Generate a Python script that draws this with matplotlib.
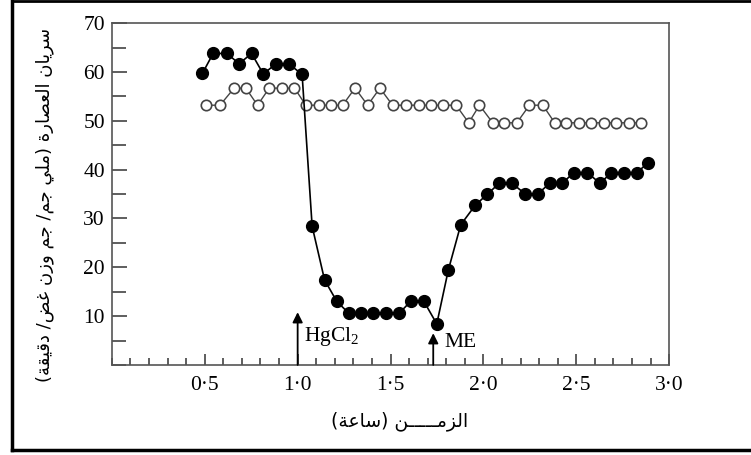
import matplotlib
matplotlib.use("Agg")
import matplotlib.pyplot as plt
from matplotlib.lines import Line2D
from matplotlib.ticker import MultipleLocator, FixedLocator

# time (hours) and sap flow
t_treated = [0.487, 0.545, 0.619, 0.685, 0.752, 0.815, 0.884, 0.952, 1.024,
             1.078, 1.145, 1.211, 1.275, 1.339, 1.406, 1.478, 1.547, 1.608,
             1.680, 1.749, 1.811, 1.878, 1.956, 2.022, 2.085, 2.154, 2.226,
             2.292, 2.357, 2.424, 2.487, 2.559, 2.628, 2.689, 2.757, 2.826, 2.887]
flow_treated = [59.7, 63.8, 63.8, 61.7, 63.8, 59.6, 61.7, 61.7, 59.5,
                28.4, 17.4, 13.0, 10.6, 10.6, 10.6, 10.6, 10.6, 13.0,
                13.0, 8.4, 19.4, 28.7, 32.7, 35.0, 37.2, 37.2, 35.0,
                35.0, 37.2, 37.2, 39.4, 39.4, 37.2, 39.4, 39.4, 39.4, 41.4]

t_control = [0.505, 0.582, 0.658, 0.721, 0.784, 0.847, 0.915, 0.983, 1.044,
             1.116, 1.179, 1.242, 1.309, 1.377, 1.443, 1.511, 1.584, 1.655,
             1.718, 1.781, 1.853, 1.921, 1.979, 2.050, 2.113, 2.180, 2.248,
             2.320, 2.384, 2.446, 2.514, 2.581, 2.647, 2.716, 2.784, 2.850]
flow_control = [53.2, 53.2, 56.7, 56.7, 53.2, 56.7, 56.7, 56.7, 53.2,
                53.2, 53.2, 53.2, 56.7, 53.2, 56.7, 53.2, 53.2, 53.2,
                53.2, 53.2, 53.2, 49.6, 53.2, 49.6, 49.6, 49.6, 53.2,
                53.2, 49.6, 49.6, 49.6, 49.6, 49.6, 49.6, 49.6, 49.6]

x_ticks = [0.5, 1.0, 1.5, 2.0, 2.5, 3.0]
x_labels = ["0·5", "1·0", "1·5", "2·0", "2·5", "3·0"]
y_ticks = [10, 20, 30, 40, 50, 60, 70]

# (time, arrow top, label x, label y, label)
events = [(1.0, 10.8, 1.035, 5.9, "HgCl$_2$"), (1.73, 6.5, 1.79, 4.6, "ME")]

x_title = "الزمـــــن (ساعة)"
y_title = "سريان العصارة (ملي جم/ جم وزن غض/ دقيقة)"

# matplotlib does no arabic shaping, so map letters to presentation forms
# (isolated, final, initial, medial)
FORMS = {
    "\u0627": ("\uFE8D", "\uFE8E", None, None),
    "\u0629": ("\uFE93", "\uFE94", None, None),
    "\u062C": ("\uFE9D", "\uFE9E", "\uFE9F", "\uFEA0"),
    "\u062F": ("\uFEA9", "\uFEAA", None, None),
    "\u0631": ("\uFEAD", "\uFEAE", None, None),
    "\u0632": ("\uFEAF", "\uFEB0", None, None),
    "\u0633": ("\uFEB1", "\uFEB2", "\uFEB3", "\uFEB4"),
    "\u0635": ("\uFEB9", "\uFEBA", "\uFEBB", "\uFEBC"),
    "\u0636": ("\uFEBD", "\uFEBE", "\uFEBF", "\uFEC0"),
    "\u0639": ("\uFEC9", "\uFECA", "\uFECB", "\uFECC"),
    "\u063A": ("\uFECD", "\uFECE", "\uFECF", "\uFED0"),
    "\u0642": ("\uFED5", "\uFED6", "\uFED7", "\uFED8"),
    "\u0644": ("\uFEDD", "\uFEDE", "\uFEDF", "\uFEE0"),
    "\u0645": ("\uFEE1", "\uFEE2", "\uFEE3", "\uFEE4"),
    "\u0646": ("\uFEE5", "\uFEE6", "\uFEE7", "\uFEE8"),
    "\u0648": ("\uFEED", "\uFEEE", None, None),
    "\u064A": ("\uFEF1", "\uFEF2", "\uFEF3", "\uFEF4"),
    "\u0640": ("\u0640", "\u0640", "\u0640", "\u0640"),
}
MIRROR = {"(": ")", ")": "("}


def arabic(s):
    out = []
    for i, ch in enumerate(s):
        if ch not in FORMS:
            out.append(MIRROR.get(ch, ch))
            continue
        prev = s[i - 1] if i > 0 else ""
        nxt = s[i + 1] if i + 1 < len(s) else ""
        join_prev = prev in FORMS and FORMS[prev][2] is not None
        join_next = FORMS[ch][2] is not None and nxt in FORMS
        iso, fin, ini, med = FORMS[ch]
        if join_prev and join_next:
            out.append(med)
        elif join_prev:
            out.append(fin)
        elif join_next:
            out.append(ini)
        else:
            out.append(iso)
    return "".join(out[::-1])


plt.rcParams["font.family"] = ["Liberation Serif", "DejaVu Sans"]
plt.rcParams["mathtext.fontset"] = "custom"
plt.rcParams["mathtext.rm"] = "Liberation Serif"
plt.rcParams["mathtext.it"] = "Liberation Serif"

fig = plt.figure(figsize=(7.51, 4.55), dpi=100)
ax = fig.add_axes([0.149, 0.198, 0.742, 0.751])

ax.plot(t_control, flow_control, "-o", color="#444444", lw=1.0,
        markersize=7.5, markerfacecolor="white", markeredgecolor="#444444",
        markeredgewidth=1.2, zorder=3)
ax.plot(t_treated, flow_treated, "-o", color="black", lw=1.2,
        markersize=8.5, markerfacecolor="black", markeredgecolor="black", zorder=4)

for x, top, lx, ly, name in events:
    ax.annotate("", xy=(x, top), xytext=(x, 0),
                arrowprops=dict(arrowstyle="-|>", color="black", lw=1.3,
                                mutation_scale=15, shrinkA=0, shrinkB=0))
    ax.text(lx, ly, name, fontsize=15.5, va="center", ha="left")

ax.set_xlim(0, 3.0)
ax.set_ylim(0, 70)
ax.xaxis.set_major_locator(FixedLocator(x_ticks))
ax.set_xticklabels(x_labels)
ax.xaxis.set_minor_locator(MultipleLocator(0.1))
ax.yaxis.set_major_locator(FixedLocator(y_ticks))
ax.yaxis.set_minor_locator(MultipleLocator(5))
ax.tick_params(axis="both", which="both", direction="in", colors="#333333",
               labelcolor="black", labelsize=15.5, width=1.1)
ax.tick_params(axis="x", which="major", length=8, pad=8)
ax.tick_params(axis="x", which="minor", length=5)
ax.tick_params(axis="y", which="major", length=11, pad=5)
ax.tick_params(axis="y", which="minor", length=10)
for s in ax.spines.values():
    s.set_color("#555555")
    s.set_linewidth(1.2)

ax.set_xlabel(arabic(x_title), fontsize=13.5, family="DejaVu Sans")
ax.set_ylabel(arabic(y_title), fontsize=13, family="DejaVu Sans")
ax.xaxis.set_label_coords(0.517, -0.137)
ax.yaxis.set_label_coords(-0.104, 0.468)

# outer frame (left, top, bottom)
for xs, ys, w in [([0.016, 0.016], [0.011, 0.997], 2.5),
                  ([0.016, 1.0], [0.997, 0.997], 2.0),
                  ([0.016, 1.0], [0.011, 0.011], 2.5)]:
    fig.add_artist(Line2D(xs, ys, color="black", lw=w, transform=fig.transFigure))

fig.savefig("out.png", dpi=100)
